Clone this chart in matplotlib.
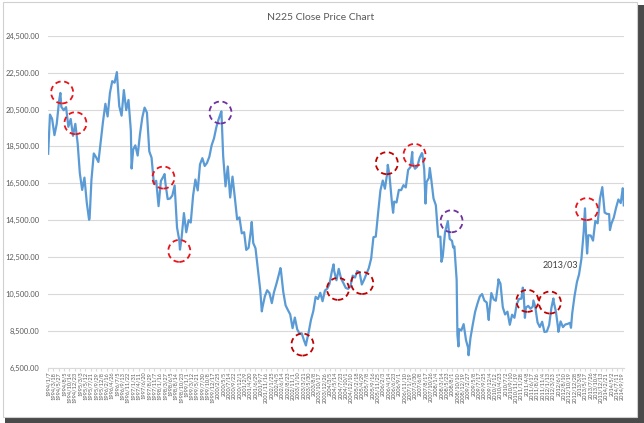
import numpy as np
import pandas as pd
import matplotlib
matplotlib.use("Agg")
import matplotlib.pyplot as plt
import matplotlib.dates as mdates
from matplotlib.patches import Ellipse, Rectangle

# --- N225 month-end closes (yen) ---
y1994 = [20229, 19997, 19111, 19725, 20973, 20643, 20462, 20629, 19564, 19990, 19076, 19723]
y1995 = [18649, 17053, 16140, 16807, 15437, 14517, 16678, 18117, 17913, 17655, 18744, 19868]
y1996 = [20813, 20125, 21407, 22041, 21956, 22531, 20693, 20167, 21556, 20467, 21020, 19361]
y1997 = [18330, 18557, 18003, 19151, 20069, 20605, 20331, 18229, 17888, 16459, 16636, 15259]
y1998 = [16628, 16831, 16527, 15641, 15671, 15830, 16379, 14108, 13406, 13565, 14883, 13842]
y1999 = [14499, 14368, 15837, 16701, 16112, 17530, 17862, 17437, 17605, 17942, 18558, 18934]
y2000 = [19540, 19960, 20337, 17974, 16332, 17411, 15727, 16861, 15747, 14539, 14649, 13785]
y2001 = [13843, 12883, 12999, 13934, 13262, 12969, 11860, 10713, 9774, 10366, 10697, 10542]
y2002 = [9997, 10587, 11024, 11492, 11763, 10621, 9877, 9619, 9383, 8640, 9215, 8578]
y2003 = [8339, 8363, 7972, 7831, 8424, 9083, 9563, 10343, 10219, 10560, 10100, 10676]
y2004 = [10783, 11041, 11715, 11761, 11236, 11858, 11325, 11081, 10824, 10771, 10899, 11488]
y2005 = [11387, 11740, 11668, 11008, 11276, 11584, 11899, 12413, 13574, 13606, 14872, 16111]
y2006 = [16649, 16205, 17059, 16906, 15467, 15505, 15456, 16140, 16127, 16399, 16274, 17225]
y2007 = [17383, 17604, 17288, 17400, 17875, 18138, 17248, 16569, 16785, 16737, 15680, 15307]
y2008 = [13592, 13603, 12525, 13849, 14338, 13481, 13376, 13072, 11259, 8576, 8512, 8859]
y2009 = [7994, 7568, 8109, 8828, 9522, 9958, 10356, 10492, 10133, 10034, 9345, 10546]
y2010 = [10198, 10126, 11089, 11057, 9768, 9382, 9537, 8824, 9369, 9202, 9937, 10228]
y2011 = [10237, 10624, 9755, 9849, 9693, 9816, 9833, 8955, 8700, 8988, 8434, 8455]
y2012 = [8802, 9723, 10083, 9520, 8542, 9006, 8695, 8839, 8870, 8928, 9446, 10395]
y2013 = [11138, 11559, 12397, 13860, 13774, 13677, 13668, 13388, 14455, 14327, 15661, 16291]
y2014 = [14914, 14841, 14828, 14304, 14632, 15162, 15620, 15424, 16173]

# weekly closes in between (peaks / troughs visible on the chart)
extra_dates = ["1994-01-07", "1994-06-17", "1995-07-07", "1996-06-28", "1997-01-10",
               "1998-03-20", "1998-10-09", "2000-04-07", "2001-05-11", "2001-09-21",
               "2002-05-24", "2003-04-25", "2004-04-23", "2006-04-07", "2006-06-16",
               "2007-02-23", "2007-07-06", "2007-08-17", "2007-10-12", "2008-03-14",
               "2008-06-06", "2008-08-15", "2008-10-10", "2008-10-24", "2008-11-07",
               "2009-03-06", "2009-11-27", "2010-04-02", "2011-02-18", "2011-03-18",
               "2011-07-08", "2012-03-27", "2012-06-01", "2012-11-14", "2013-05-17",
               "2013-06-14", "2014-04-11", "2014-09-26", "2014-10-10"]
extra_values = [18100, 21400, 14600, 22500, 17300,
                17000, 12900, 20400, 14400, 9550,
                11900, 7700, 12100, 17500, 14900,
                18200, 18100, 15400, 17330, 12240,
                14450, 13020, 8280, 7650, 8580,
                7170, 9080, 11290, 10840, 9200,
                10140, 10250, 8440, 8660, 15140,
                12690, 13960, 16230, 15300]

# circled spots: date, level, colour
circle_dates = ["1994-07-10", "1995-01-01", "1998-03-05", "1998-09-30", "2000-03-25",
                "2003-03-10", "2004-06-20", "2005-05-05", "2006-03-25", "2007-03-25",
                "2008-07-25", "2011-04-20", "2012-02-10", "2013-06-10"]
circle_levels = [21430, 19760, 16810, 12830, 20340,
                 7750, 10770, 11090, 17590, 18040,
                 14440, 10120, 10030, 15100]
circle_colors = ["#e8141b", "#e8141b", "#e8141b", "#e8141b", "#7030a0",
                 "#c00000", "#c00000", "#c00000", "#c00000", "#e8141b",
                 "#7030a0", "#c00000", "#c00000", "#e8141b"]

note_text = "2013/03"

monthly = y1994 + y1995 + y1996 + y1997 + y1998 + y1999 + y2000 + y2001 + y2002 + \
    y2003 + y2004 + y2005 + y2006 + y2007 + y2008 + y2009 + y2010 + y2011 + y2012 + y2013 + y2014
month_idx = pd.date_range("1994-01-31", periods=len(monthly), freq="ME")
series = pd.concat([pd.Series(monthly, index=month_idx),
                    pd.Series(extra_values, index=pd.to_datetime(extra_dates))]).sort_index()

W, H = 644, 423
fig = plt.figure(figsize=(W / 100, H / 100), dpi=100)
plt.rcParams["font.family"] = ["Lato", "DejaVu Sans"]

# chart frame + screenshot shadow (behind the axes)
fig.patches.append(Rectangle((5 / W, 0), 1 - 5 / W, 6 / H, transform=fig.transFigure,
                             facecolor="#4a4a4a", edgecolor="none", zorder=-10))
fig.patches.append(Rectangle((1 - 7 / W, 0), 7 / W, 1 - 5 / H, transform=fig.transFigure,
                             facecolor="#4a4a4a", edgecolor="none", zorder=-10))
fig.patches.append(Rectangle((2.5 / W, 1 - 416.5 / H), 634 / W, 414 / H, transform=fig.transFigure,
                             facecolor="white", edgecolor="#d0d0d0", linewidth=0.8, zorder=-9))

ax = fig.add_axes([48 / W, 1 - 367.6 / H, 576 / W, (367.6 - 35.8) / H])
ax.set_facecolor("none")

ax.plot(series.index, series.values, color="#5b9bd5", linewidth=1.6, zorder=3)

start, end = series.index[0], series.index[-1]
ax.set_xlim(start - pd.Timedelta(days=2), end + pd.Timedelta(days=3))
ax.set_ylim(6500, 24500)

ax.set_yticks(np.arange(6500, 24501, 2000))
ax.set_yticklabels([f"{v:,.2f}" for v in np.arange(6500, 24501, 2000)])
ax.grid(axis="y", color="#d9d9d9", linewidth=0.8)
ax.set_axisbelow(True)
for s in ["top", "right", "left"]:
    ax.spines[s].set_visible(False)
ax.spines["bottom"].set_color("#d9d9d9")
ax.tick_params(axis="y", length=0, labelsize=5.4, labelcolor="#595959", pad=6)

# category-style date labels every 10 weeks
weeks = pd.date_range(start, end, freq="7D")[::10]
ax.set_xticks(weeks)
ax.set_xticklabels([f"{d.year}/{d.month}/{d.day}" for d in weeks], rotation=90)
ax.tick_params(axis="x", length=2, color="#d9d9d9", labelsize=4.1, labelcolor="#595959", pad=1)

# dashed circles
x0, x1 = ax.get_xlim()
ew = 22 / 576 * (x1 - x0)
eh = 22 / (367.6 - 35.8) * (24500 - 6500)
for d, v, c in zip(circle_dates, circle_levels, circle_colors):
    ax.add_patch(Ellipse((mdates.date2num(pd.Timestamp(d)), v), ew, eh, fill=False,
                         edgecolor=c, linewidth=1.3, linestyle=(0, (3, 2)), zorder=4))

ax.text(pd.Timestamp("2012-06-25"), 12060, note_text, fontsize=6.5, color="#404040",
        ha="center", va="center")

fig.text(321 / W, 1 - 18 / H, "N225 Close Price Chart", fontsize=7.5, color="#595959",
         ha="center", va="center")

fig.savefig("out.png", dpi=100)
